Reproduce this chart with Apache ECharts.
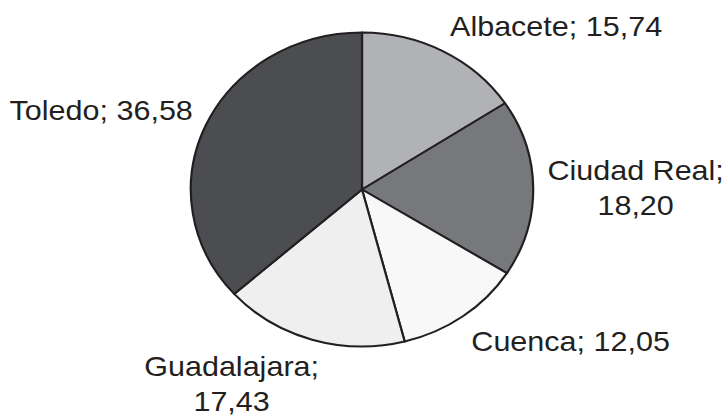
<!DOCTYPE html>
<html>
<head>
<meta charset="utf-8">
<script src="https://cdn.jsdelivr.net/npm/echarts@6/dist/echarts.min.js"></script>
<style>
  html, body { margin: 0; padding: 0; background: #fff; overflow: hidden; }
  /* la figura original está estirada en horizontal */
  #chart { width: 664px; height: 416px; transform: scaleX(1.0904); transform-origin: 0 0; }
</style>
</head>
<body>
<div id="chart"></div>
<script>
const provincias = ['Albacete', 'Ciudad Real', 'Cuenca', 'Guadalajara', 'Toledo']
const valores = [15.74, 18.20, 12.05, 17.43, 36.58]

const CX = 332
const CY = 189.5
const R = 157
const total = valores.reduce((a, b) => a + b, 0)

// ángulo medio de cada sector (grados, antihorario desde el este)
const midAngle = (i) => {
  let acc = 0
  for (let k = 0; k < i; k++) acc += valores[k]
  return 90 - 360 * (acc + valores[i] / 2) / total
}
const clamp = (t) => Math.max(-1, Math.min(1, t))

const chart = echarts.init(document.getElementById('chart'), null, { renderer: 'svg' })
const option = {
  animation: false,
  color: ['#b1b2b5', '#77787c', '#f8f8f8', '#efefef', '#4c4d50'],
  series: [{
    type: 'pie',
    center: [CX, CY],
    radius: R,
    startAngle: 90,
    clockwise: true,
    avoidLabelOverlap: false,
    itemStyle: { borderColor: '#231f20', borderWidth: 2 },
    label: {
      show: true,
      position: 'outside',
      color: '#231f20',
      fontFamily: 'Liberation Sans, Arial, sans-serif',
      fontSize: 28,
      lineHeight: 35,
      formatter: (p) => {
        const v = p.value.toFixed(2).replace('.', ',')
        const s = p.name + '; ' + v
        return s.length > 16 ? p.name + ';\n' + v : s
      }
    },
    labelLine: { show: false },
    // etiqueta junto al sector, como en Excel
    labelLayout: (params) => {
      const a = midAngle(params.dataIndex) * Math.PI / 180
      const c = Math.cos(a)
      const s = Math.sin(a)
      const w = params.labelRect.width
      const h = params.labelRect.height
      return {
        x: CX + 170 * c + clamp(3 * c) * w / 2,
        y: CY - 166 * s - clamp(1.6 * s) * h / 2,
        align: 'center',
        verticalAlign: 'middle'
      }
    },
    data: provincias.map((name, i) => ({ name, value: valores[i] }))
  }]
}
chart.setOption(option)
</script>
</body>
</html>
